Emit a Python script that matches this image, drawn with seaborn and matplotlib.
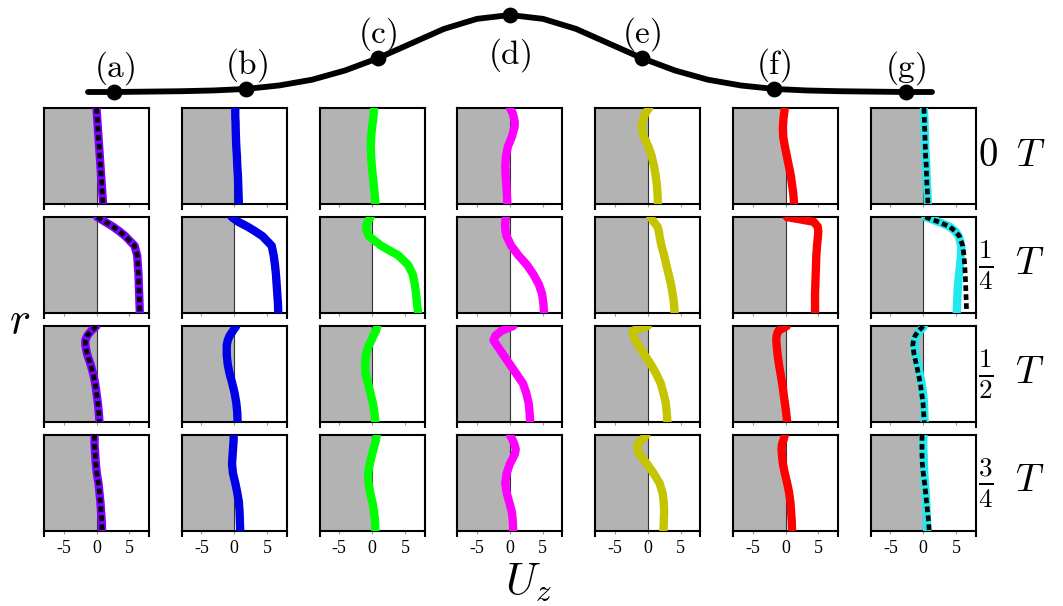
import numpy as np
import pandas as pd
import matplotlib
matplotlib.use("Agg")
import matplotlib.pyplot as plt
import seaborn as sns

sns.set_theme(style="white")
plt.rcParams["font.family"] = ["Liberation Serif", "DejaVu Serif"]
plt.rcParams["mathtext.fontset"] = "cm"
plt.rcParams["text.color"] = "black"

# ---- data ----
# radial sample points, wall (top of panel) to axis (bottom)
r = [1.0, 0.95, 0.9, 0.85, 0.8, 0.7, 0.6, 0.5, 0.4, 0.3, 0.2, 0.1, 0.0]

station_names = ["(a)", "(b)", "(c)", "(d)", "(e)", "(f)", "(g)"]
station_z = [-3, -2, -1, 0, 1, 2, 3]
station_h = [0.0, 0.04, 0.44, 1.0, 0.44, 0.04, 0.0]

# wall bump profile
bump_z = [-3.2, -3.0, -2.75, -2.5, -2.25, -2.0, -1.75, -1.5, -1.25, -1.0, -0.75, -0.5, -0.25, 0.0,
          0.25, 0.5, 0.75, 1.0, 1.25, 1.5, 1.75, 2.0, 2.25, 2.5, 2.75, 3.0, 3.2]
bump_h = [0.0, 0.0, 0.005, 0.01, 0.02, 0.04, 0.085, 0.16, 0.28, 0.44, 0.63, 0.82, 0.95, 1.0,
          0.95, 0.82, 0.63, 0.44, 0.28, 0.16, 0.085, 0.04, 0.02, 0.01, 0.005, 0.0, 0.0]

phase_labels = [r"$0\;\;T$", r"$\frac{1}{4}\;\;T$", r"$\frac{1}{2}\;\;T$", r"$\frac{3}{4}\;\;T$"]

# axial velocity U_z at r, for phases 0, 1/4, 1/2, 3/4 T
uz_a = [[0.0, 0.05, 0.1, 0.15, 0.2, 0.3, 0.4, 0.5, 0.6, 0.7, 0.8, 0.9, 1.0],
        [0.1, 1.3, 2.5, 3.5, 4.4, 5.8, 6.2, 6.3, 6.4, 6.45, 6.5, 6.55, 6.6],
        [0.0, -0.8, -1.4, -1.7, -1.7, -1.4, -0.9, -0.5, -0.2, 0.0, 0.2, 0.35, 0.45],
        [-0.3, -0.3, -0.3, -0.25, -0.2, -0.1, 0.05, 0.3, 0.45, 0.6, 0.7, 0.8, 0.85]]
uz_b = [[0.15, 0.15, 0.15, 0.2, 0.2, 0.25, 0.3, 0.4, 0.45, 0.55, 0.6, 0.65, 0.7],
        [-0.4, 0.6, 2.0, 3.2, 4.3, 5.7, 6.0, 6.2, 6.35, 6.45, 6.55, 6.65, 6.7],
        [0.3, -0.2, -0.7, -1.0, -1.15, -1.15, -1.0, -0.7, -0.3, 0.05, 0.3, 0.45, 0.5],
        [-0.1, -0.1, -0.15, -0.2, -0.25, -0.35, -0.2, 0.15, 0.45, 0.7, 0.8, 0.85, 0.9]]
uz_c = [[0.3, 0.25, 0.2, 0.1, 0.0, -0.15, -0.2, -0.15, -0.05, 0.1, 0.25, 0.4, 0.5],
        [-0.2, -0.7, -0.9, -0.8, -0.5, 1.4, 4.0, 5.5, 6.2, 6.5, 6.7, 6.85, 7.0],
        [0.8, 0.6, 0.2, -0.1, -0.5, -0.95, -1.05, -1.0, -0.6, -0.25, 0.1, 0.35, 0.5],
        [0.7, 0.6, 0.4, 0.2, 0.0, -0.35, -0.6, -0.55, -0.3, 0.05, 0.3, 0.45, 0.5]]
uz_d = [[0.0, 0.4, 0.6, 0.75, 0.7, 0.3, -0.3, -0.6, -0.7, -0.65, -0.55, -0.45, -0.4],
        [-0.6, -0.7, -0.75, -0.65, -0.5, 0.2, 1.3, 2.6, 3.6, 4.4, 4.9, 5.1, 5.2],
        [0.5, -1.3, -2.2, -2.5, -2.0, -1.0, 0.0, 1.0, 2.0, 2.5, 2.85, 3.0, 3.1],
        [0.0, 0.4, 0.7, 0.9, 0.75, 0.0, -0.5, -0.7, -0.5, -0.1, 0.3, 0.45, 0.5]]
uz_e = [[0.2, -0.3, -0.6, -0.8, -0.9, -0.6, 0.1, 0.6, 0.95, 1.2, 1.4, 1.5, 1.55],
        [0.4, 0.9, 1.5, 1.7, 1.8, 2.1, 2.5, 2.85, 3.2, 3.55, 3.8, 4.0, 4.1],
        [0.0, -2.3, -2.2, -1.9, -1.4, -0.5, 0.5, 1.3, 2.0, 2.4, 2.75, 2.9, 3.0],
        [-0.2, -0.9, -1.6, -1.5, -1.3, -0.1, 0.9, 1.8, 2.25, 2.45, 2.5, 2.45, 2.4]]
uz_f = [[-0.1, -0.2, -0.3, -0.35, -0.4, -0.35, -0.1, 0.2, 0.5, 0.8, 1.0, 1.2, 1.3],
        [0.2, 4.3, 4.9, 5.0, 4.95, 4.8, 4.7, 4.65, 4.6, 4.55, 4.5, 4.5, 4.5],
        [0.2, -1.1, -1.35, -1.4, -1.35, -1.2, -1.0, -0.75, -0.5, -0.3, -0.1, 0.1, 0.25],
        [-0.1, -0.3, -0.55, -0.6, -0.55, -0.4, -0.1, 0.25, 0.55, 0.75, 0.85, 0.95, 1.0]]
uz_g = [[0.1, 0.12, 0.15, 0.18, 0.2, 0.25, 0.3, 0.35, 0.45, 0.5, 0.55, 0.65, 0.7],
        [0.3, 2.3, 4.0, 4.9, 5.4, 5.8, 5.75, 5.6, 5.45, 5.3, 5.2, 5.15, 5.1],
        [0.1, -0.5, -1.05, -1.3, -1.4, -1.2, -0.85, -0.55, -0.25, -0.05, 0.1, 0.15, 0.2],
        [0.0, 0.0, 0.0, 0.0, 0.05, 0.1, 0.15, 0.25, 0.35, 0.45, 0.5, 0.55, 0.6]]
# black dashed reference curves at (a) and (g)
uz_a_ref = uz_a
uz_g_ref = [[0.1, 0.12, 0.15, 0.18, 0.2, 0.25, 0.3, 0.35, 0.45, 0.5, 0.55, 0.65, 0.7],
            [0.3, 2.3, 4.0, 4.9, 5.5, 6.0, 6.2, 6.3, 6.4, 6.45, 6.5, 6.55, 6.6],
            [0.0, -0.7, -1.25, -1.5, -1.6, -1.4, -1.05, -0.75, -0.45, -0.25, -0.05, 0.05, 0.15],
            [-0.2, -0.2, -0.2, -0.2, -0.2, -0.15, 0.0, 0.2, 0.35, 0.5, 0.65, 0.8, 0.9]]

profiles = [uz_a, uz_b, uz_c, uz_d, uz_e, uz_f, uz_g]
refs = [uz_a_ref, None, None, None, None, None, uz_g_ref]
colors = ["#8000ff", "#0000e6", "#00ff00", "#ff00ff", "#c4c400", "#ff0000", "#22e8f0"]

# ---- figure ----
W, H = 1063, 606
fig = plt.figure(figsize=(W / 100, H / 100), dpi=100)

for j in range(7):
    for i in range(4):
        left = (44 + j * 137.8) / W
        bottom = 1 - (108 + i * 109 + 96) / H
        ax = fig.add_axes([left, bottom, 105 / W, 96 / H])
        ax.axvspan(-8, 0, color="#b3b3b3", lw=0, zorder=0)
        ax.axvline(0, color="#333333", lw=0.8, zorder=1)
        sns.lineplot(x=profiles[j][i], y=r, sort=False, estimator=None,
                     color=colors[j], lw=6, ax=ax, zorder=3)
        if refs[j] is not None:
            sns.lineplot(x=refs[j][i], y=r, sort=False, estimator=None,
                         color="black", lw=3.4, linestyle=(0, (1.2, 0.7)), ax=ax, zorder=4)
        ax.set_xlim(-8, 8)
        ax.set_ylim(0, 1)
        ax.set_xlabel("")
        ax.set_ylabel("")
        ax.set_yticks([])
        ax.set_xticks([-5, 0, 5])
        ax.set_xticks([-8, 8], minor=True)
        ax.tick_params(axis="x", which="major", bottom=True, length=2.5, width=0.8,
                       color="#999999", direction="out", pad=4, labelsize=13,
                       labelcolor="black")
        ax.tick_params(axis="x", which="minor", bottom=True, length=4, width=1.5,
                       color="black", direction="out")
        if i == 3:
            ax.set_xticklabels(["-5", "0", "5"])
        else:
            ax.set_xticklabels([])
        for s in ax.spines.values():
            s.set_visible(True)
            s.set_color("black")
            s.set_linewidth(1.5)

# wall shape with the stations on top
top = fig.add_axes([88 / W, 1 - 92 / H, 844 / W, 77 / H])
sns.lineplot(x=bump_z, y=bump_h, sort=False, estimator=None, color="black",
             lw=4.2, ax=top, clip_on=False)
sns.scatterplot(x=station_z, y=station_h, color="black", s=130, linewidth=0,
                ax=top, clip_on=False, zorder=5)
for name, z, h in zip(station_names, station_z, station_h):
    dy = -29 if name == "(d)" else 17
    top.annotate(r"$\mathrm{" + name + "}$", (z, h), xytext=(0, dy), textcoords="offset points",
                 ha="center", va="center", fontsize=24)
top.set_xlim(-3.2, 3.2)
top.set_ylim(0, 1)
top.axis("off")

# phase labels on the right
for i, lab in enumerate(phase_labels):
    yc = 108 + i * 109 + 48
    fig.text(978 / W, 1 - yc / H, lab, fontsize=28, ha="left", va="center")

fig.text(20 / W, 1 - 322 / H, r"$r$", fontsize=32, ha="center", va="center")
fig.text(528 / W, 1 - 582 / H, r"$U_z$", fontsize=32, ha="center", va="center")

fig.savefig("out.png", dpi=100)
